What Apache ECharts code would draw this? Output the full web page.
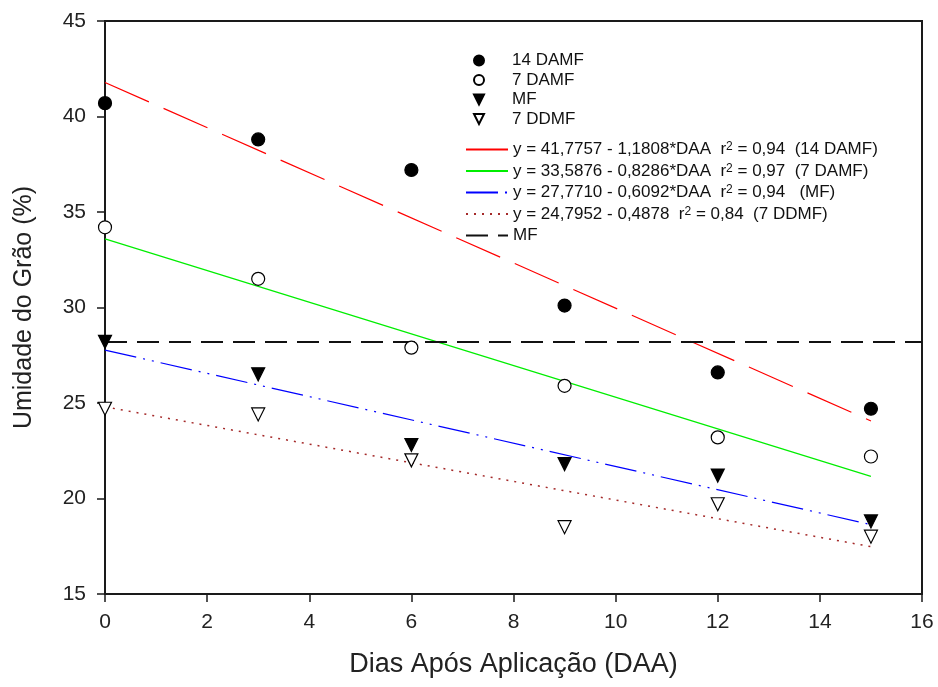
<!DOCTYPE html>
<html>
<head>
<meta charset="utf-8">
<script src="https://cdn.jsdelivr.net/npm/echarts@6/dist/echarts.min.js"></script>
<style>
html,body{margin:0;padding:0;background:#fff;}
#chart{width:938px;height:687px;}
</style>
</head>
<body>
<div id="chart"></div>
<script>
// ---- data ----
const daa = [0, 3, 6, 9, 12, 15];
const damf14 = [40.7, 38.8, 37.2, 30.1, 26.6, 24.7];
const damf7 = [34.2, 31.5, 27.9, 25.9, 23.2, 22.2];
const mf = [28.2, 26.5, 22.8, 21.8, 21.2, 18.8];
const ddmf7 = [24.7, 24.4, 22.0, 18.5, 19.7, 18.0];

// regression lines (end points)
const fitX = [0, 15];
const fit14 = [41.78, 24.06];
const fit7 = [33.59, 21.16];
const fitMF = [27.77, 18.63];
const fit7DD = [24.80, 17.48];

// horizontal MF reference line
const refX = [0, 16];
const refMF = [28.2, 28.2];

const xTicks = { min: 0, max: 16, interval: 2 };
const yTicks = { min: 15, max: 45, interval: 5 };

const xTitle = 'Dias Após Aplicação (DAA)';
const yTitle = 'Umidade do Grão (%)';

const pointNames = ['14 DAMF', '7 DAMF', 'MF', '7 DDMF'];
const lineKeys = ['fit14', 'fit7', 'fitMF', 'fit7DD', 'refMF'];
const lineTexts = {
  fit14: 'y = 41,7757 - 1,1808*DAA  r{sup|2} = 0,94  (14 DAMF)',
  fit7: 'y = 33,5876 - 0,8286*DAA  r{sup|2} = 0,97  (7 DAMF)',
  fitMF: 'y = 27,7710 - 0,6092*DAA  r{sup|2} = 0,94   (MF)',
  fit7DD: 'y = 24,7952 - 0,4878  r{sup|2} = 0,84  (7 DDMF)',
  refMF: 'MF'
};

const zip = (xs, ys) => xs.map((x, i) => [x, ys[i]]);
const downTri = 'path://M0,0 L10,0 L5,10 Z';
const FONT = 'Liberation Sans, Arial, sans-serif';

const chart = echarts.init(document.getElementById('chart'), null, { renderer: 'canvas' });

function lineSeries(name, xs, ys, color, type, width) {
  return {
    name: name, type: 'line', data: zip(xs, ys),
    symbol: 'none', showSymbol: false, silent: true, z: 2,
    lineStyle: { color: color, width: width, type: type },
    itemStyle: { color: color },
    emphasis: { disabled: true }
  };
}
function scatterSeries(name, ys, symbol, fill) {
  return {
    name: name, type: 'scatter', data: zip(daa, ys),
    symbol: symbol, symbolSize: 13, symbolKeepAspect: true, z: 5,
    itemStyle: { color: fill, borderColor: '#000', borderWidth: 1.2, opacity: 1 },
    emphasis: { disabled: true }
  };
}

const option = {
  animation: false,
  backgroundColor: '#fff',
  textStyle: { fontFamily: FONT },
  grid: {
    left: 105, right: 16, top: 21, bottom: 93,
    show: true, borderColor: '#1a1a1a', borderWidth: 2, backgroundColor: 'transparent'
  },
  xAxis: {
    type: 'value', min: xTicks.min, max: xTicks.max, interval: xTicks.interval,
    name: xTitle, nameLocation: 'middle', nameGap: 57,
    nameTextStyle: { fontSize: 27, color: '#222', fontFamily: FONT },
    axisLine: { show: true, lineStyle: { color: '#1a1a1a', width: 2 } },
    axisTick: { show: true, inside: false, length: 8, lineStyle: { color: '#1a1a1a', width: 1.5 } },
    axisLabel: { fontSize: 21, color: '#222', margin: 18, fontFamily: FONT },
    splitLine: { show: false }
  },
  yAxis: {
    type: 'value', min: yTicks.min, max: yTicks.max, interval: yTicks.interval,
    name: yTitle, nameLocation: 'middle', nameGap: 68, nameRotate: 90,
    nameTextStyle: { fontSize: 25, color: '#222', fontFamily: FONT },
    axisLine: { show: true, lineStyle: { color: '#1a1a1a', width: 2 } },
    axisTick: { show: true, inside: false, length: 8, lineStyle: { color: '#1a1a1a', width: 1.5 } },
    axisLabel: { fontSize: 21, color: '#222', margin: 19, fontFamily: FONT },
    splitLine: { show: false }
  },
  legend: [
    {
      orient: 'vertical', left: 468, top: 47, itemWidth: 56, itemHeight: 10, itemGap: 2.5,
      data: pointNames, selectedMode: false,
      textStyle: { fontSize: 17, lineHeight: 17, color: '#111', fontFamily: FONT }
    },
    {
      orient: 'vertical', left: 460, top: 136, itemWidth: 42, itemHeight: 10, itemGap: 4.5,
      data: lineKeys, selectedMode: false,
      itemStyle: { opacity: 0, color: 'rgba(0,0,0,0)', borderWidth: 0 },
      formatter: function (n) { return lineTexts[n]; },
      textStyle: {
        fontSize: 17, lineHeight: 17, color: '#111', fontFamily: FONT,
        rich: { sup: { fontSize: 12, lineHeight: 12, verticalAlign: 'top', color: '#111', fontFamily: FONT } }
      }
    }
  ],
  series: [
    lineSeries('fit14', fitX, fit14, '#ff0000', [48, 16], 1.2),
    lineSeries('fit7', fitX, fit7, '#00ee00', 'solid', 1.2),
    lineSeries('fitMF', fitX, fitMF, '#0000ff', [32, 7, 2, 7, 2, 7], 1.2),
    lineSeries('fit7DD', fitX, fit7DD, '#a52a2a', [2, 6], 1.5),
    lineSeries('refMF', refX, refMF, '#111111', [22, 10], 2),
    scatterSeries('14 DAMF', damf14, 'circle', '#000'),
    scatterSeries('7 DAMF', damf7, 'circle', '#fff'),
    scatterSeries('MF', mf, downTri, '#000'),
    scatterSeries('7 DDMF', ddmf7, downTri, '#fff')
  ]
};
chart.setOption(option);
</script>
</body>
</html>
